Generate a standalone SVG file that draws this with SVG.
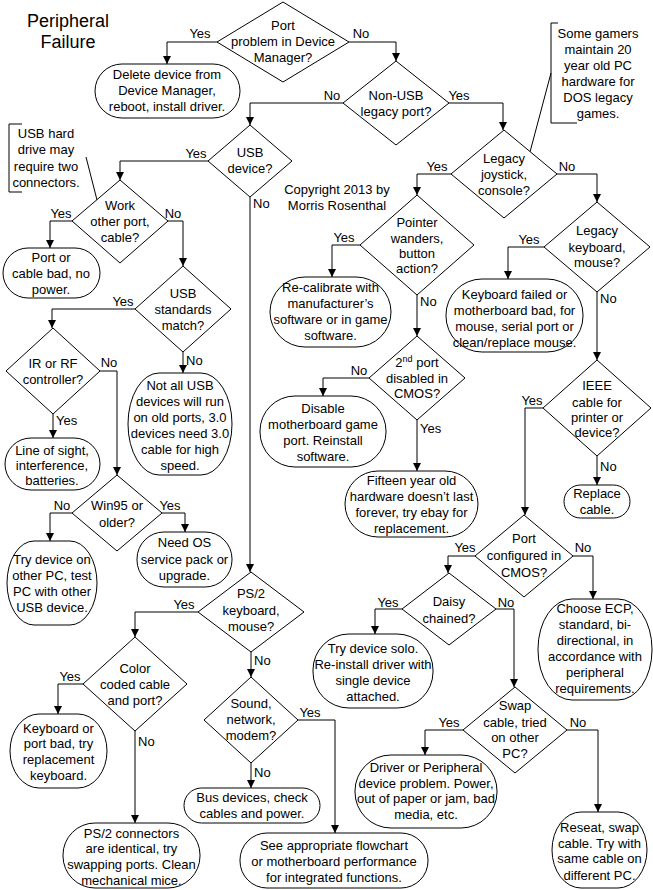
<svg xmlns="http://www.w3.org/2000/svg" width="653" height="890" viewBox="0 0 653 890">
<style>
text{font-family:"Liberation Sans",Arial,sans-serif;font-size:13px;fill:#000}
.n text{text-anchor:middle}
.t{font-size:18px;text-anchor:middle}
.d,.r{fill:#fff;stroke:#000;stroke-width:1}
.c polyline{fill:none;stroke:#000;stroke-width:1;marker-end:url(#ah)}
.c line,.note path{fill:none;stroke:#000;stroke-width:1}
.lb{text-anchor:middle}
.ls{text-anchor:start}
.note text{text-anchor:middle}
</style>
<defs>
<marker id="ah" markerUnits="userSpaceOnUse" markerWidth="8" markerHeight="8" refX="8" refY="4" orient="auto">
<path d="M0,0 L8,4 L0,8 z" fill="#000"/>
</marker>
</defs>
<rect width="653" height="890" fill="#fff"/>
<g id="title"><text class="t" x="68" y="27">Peripheral</text><text class="t" x="68" y="48">Failure</text></g>
<g id="copyright"><text x="337" y="194" text-anchor="middle">Copyright 2013 by</text><text x="337" y="210" text-anchor="middle">Morris Rosenthal</text></g>

<g class="c" id="connectors">
<polyline points="217,42 167,42 167,64"/>
<polyline points="349,42 396,42 396,61"/>
<polyline points="343,103 250,103 250,125"/>
<polyline points="449,103 503,103 503,130"/>
<polyline points="208,161 120,161 120,180"/>
<polyline points="250,197 250,572"/>
<polyline points="451,174 417,174 417,195"/>
<polyline points="557,174 597,174 597,202"/>
<polyline points="72,221 50,221 50,248"/>
<polyline points="168,221 183,221 183,266"/>
<polyline points="135,309 52,309 52,328"/>
<polyline points="183,352 183,373"/>
<polyline points="100,371 117,371 117,475"/>
<polyline points="53,414 53,438"/>
<polyline points="72,513 50,513 50,541"/>
<polyline points="162,513 185,513 185,532"/>
<polyline points="198,612 135,612 135,637"/>
<polyline points="251,652 251,677"/>
<polyline points="83,684 58,684 58,714"/>
<polyline points="135,731 135,823"/>
<polyline points="251,763 251,788"/>
<polyline points="298,720 335,720 335,833"/>
<polyline points="360,245 332,245 332,277"/>
<polyline points="417,295 417,336"/>
<polyline points="369,378 323,378 323,396"/>
<polyline points="417,420 417,471"/>
<polyline points="544,247 508,247 508,279"/>
<polyline points="597,292 597,360"/>
<polyline points="597,456 597,485"/>
<polyline points="543,408 525,408 525,515"/>
<polyline points="475,556 448,556 448,573"/>
<polyline points="573,556 593,556 593,599"/>
<polyline points="402,609 375,609 375,634"/>
<polyline points="496,609 514,609 514,687"/>
<polyline points="463,730 425,730 425,755"/>
<polyline points="567,730 598,730 598,812"/>
<line x1="551" y1="73" x2="530" y2="152"/>
<line x1="86" y1="157" x2="97" y2="200"/>
<text class="lb" x="200" y="38">Yes</text>
<text class="lb" x="361" y="38">No</text>
<text class="lb" x="332" y="100">No</text>
<text class="lb" x="459" y="100">Yes</text>
<text class="lb" x="196" y="158">Yes</text>
<text class="ls" x="253" y="208">No</text>
<text class="lb" x="437" y="171">Yes</text>
<text class="lb" x="567" y="171">No</text>
<text class="lb" x="61" y="218">Yes</text>
<text class="lb" x="173" y="218">No</text>
<text class="lb" x="123" y="306">Yes</text>
<text class="ls" x="186" y="365">No</text>
<text class="lb" x="109" y="367">No</text>
<text class="ls" x="56" y="425">Yes</text>
<text class="lb" x="62" y="510">No</text>
<text class="lb" x="170" y="510">Yes</text>
<text class="lb" x="184" y="609">Yes</text>
<text class="ls" x="254" y="665">No</text>
<text class="lb" x="70" y="681">Yes</text>
<text class="ls" x="138" y="746">No</text>
<text class="ls" x="254" y="777">No</text>
<text class="lb" x="310" y="717">Yes</text>
<text class="lb" x="344" y="242">Yes</text>
<text class="ls" x="420" y="306">No</text>
<text class="lb" x="359" y="375">No</text>
<text class="ls" x="420" y="433">Yes</text>
<text class="lb" x="529" y="244">Yes</text>
<text class="ls" x="600" y="303">No</text>
<text class="ls" x="600" y="471">No</text>
<text class="lb" x="532" y="405">Yes</text>
<text class="lb" x="465" y="552">Yes</text>
<text class="lb" x="583" y="552">No</text>
<text class="lb" x="388" y="607">Yes</text>
<text class="lb" x="506" y="607">No</text>
<text class="lb" x="449" y="727">Yes</text>
<text class="lb" x="578" y="727">No</text>
</g>

<g class="note" id="note_gamers">
<path d="M558,23 H551 V123 H577"/>
<text x="598" y="38">Some gamers</text><text x="598" y="54">maintain 20</text><text x="598" y="70">year old PC</text><text x="598" y="86">hardware for</text><text x="598" y="102">DOS legacy</text><text x="598" y="118">games.</text>
</g>
<g class="note" id="note_usb">
<path d="M22,124 H9 V192 H22"/>
<text x="46" y="138">USB hard</text><text x="46" y="154">drive may</text><text x="46" y="171">require two</text><text x="46" y="187">connectors.</text>
</g>

<g class="n" id="d_port_dm"><polygon class="d" points="283,2 349,42 283,82 217,42"/><text x="283" y="30">Port</text><text x="283" y="46">problem in Device</text><text x="283" y="62">Manager?</text></g>
<g class="n" id="t_delete"><rect class="r" x="95" y="64" width="145" height="54" rx="27"/><text x="167" y="79">Delete device from</text><text x="167" y="95">Device Manager,</text><text x="167" y="111">reboot, install driver.</text></g>
<g class="n" id="d_nonusb"><polygon class="d" points="396,61 449,103 396,145 343,103"/><text x="396" y="100">Non-USB</text><text x="396" y="116">legacy port?</text></g>
<g class="n" id="d_usb"><polygon class="d" points="250,125 292,161 250,197 208,161"/><text x="250" y="157">USB</text><text x="250" y="173">device?</text></g>
<g class="n" id="d_joystick"><polygon class="d" points="504,130 557,174 504,218 451,174"/><text x="504" y="163">Legacy</text><text x="504" y="179">joystick,</text><text x="504" y="195">console?</text></g>
<g class="n" id="d_work"><polygon class="d" points="120,180 168,221 120,263 72,221"/><text x="120" y="210">Work</text><text x="120" y="226">other port,</text><text x="120" y="242">cable?</text></g>
<g class="n" id="t_portbad"><rect class="r" x="3" y="248" width="97" height="50" rx="25"/><text x="51" y="262">Port or</text><text x="51" y="278">cable bad, no</text><text x="51" y="294">power.</text></g>
<g class="n" id="d_usbstd"><polygon class="d" points="183,266 231,309 183,352 135,309"/><text x="183" y="298">USB</text><text x="183" y="314">standards</text><text x="183" y="330">match?</text></g>
<g class="n" id="d_irrf"><polygon class="d" points="53,328 100,371 53,414 6,371"/><text x="53" y="368">IR or RF</text><text x="53" y="384">controller?</text></g>
<g class="n" id="t_notall"><rect class="r" x="128" y="373" width="104" height="102" rx="31" ry="51"/><text x="180" y="390">Not all USB</text><text x="180" y="406">devices will run</text><text x="180" y="422">on old ports, 3.0</text><text x="180" y="438">devices need 3.0</text><text x="180" y="454">cable for high</text><text x="180" y="470">speed.</text></g>
<g class="n" id="t_sight"><rect class="r" x="5" y="438" width="95" height="52" rx="26"/><text x="52" y="455">Line of sight,</text><text x="52" y="470">interference,</text><text x="52" y="485">batteries.</text></g>
<g class="n" id="d_win95"><polygon class="d" points="117,475 162,513 117,551 72,513"/><text x="117" y="510">Win95 or</text><text x="117" y="527">older?</text></g>
<g class="n" id="t_trydev"><rect class="r" x="7" y="541" width="90" height="84" rx="27" ry="42"/><text x="52" y="564">Try device on</text><text x="52" y="580">other PC, test</text><text x="52" y="596">PC with other</text><text x="52" y="612">USB device.</text></g>
<g class="n" id="t_needos"><rect class="r" x="137" y="532" width="95" height="55" rx="27"/><text x="184.5" y="547">Need OS</text><text x="184.5" y="564">service pack or</text><text x="184.5" y="580">upgrade.</text></g>
<g class="n" id="d_ps2"><polygon class="d" points="251,572 304,612 251,652 198,612"/><text x="251" y="598">PS/2</text><text x="251" y="615">keyboard,</text><text x="251" y="631">mouse?</text></g>
<g class="n" id="d_color"><polygon class="d" points="135,637 187,684 135,731 83,684"/><text x="135" y="673">Color</text><text x="135" y="689">coded cable</text><text x="135" y="705">and port?</text></g>
<g class="n" id="t_kbport"><rect class="r" x="10" y="714" width="97" height="74" rx="29" ry="37"/><text x="58.5" y="733">Keyboard or</text><text x="58.5" y="748">port bad, try</text><text x="58.5" y="764">replacement</text><text x="58.5" y="780">keyboard.</text></g>
<g class="n" id="t_ps2conn"><rect class="r" x="63" y="823" width="137" height="65" rx="32"/><text x="131.5" y="838">PS/2 connectors</text><text x="131.5" y="853">are identical, try</text><text x="131.5" y="869">swapping ports. Clean</text><text x="131.5" y="885">mechanical mice.</text></g>
<g class="n" id="d_sound"><polygon class="d" points="251,677 298,720 251,763 204,720"/><text x="251" y="708">Sound,</text><text x="251" y="724">network,</text><text x="251" y="740">modem?</text></g>
<g class="n" id="t_bus"><rect class="r" x="184" y="788" width="136" height="35" rx="17.5"/><text x="252" y="802">Bus devices, check</text><text x="252" y="818">cables and power.</text></g>
<g class="n" id="t_seeappr"><rect class="r" x="240" y="833" width="188" height="55" rx="27"/><text x="334" y="850">See appropriate flowchart</text><text x="334" y="866">or motherboard performance</text><text x="334" y="882">for integrated functions.</text></g>
<g class="n" id="d_pointer"><polygon class="d" points="417,195 474,245 417,295 360,245"/><text x="417" y="227">Pointer</text><text x="417" y="243">wanders,</text><text x="417" y="258">button</text><text x="417" y="273">action?</text></g>
<g class="n" id="t_recal"><rect class="r" x="270" y="277" width="121" height="70" rx="35"/><text x="330.5" y="292">Re-calibrate with</text><text x="330.5" y="308">manufacturer’s</text><text x="330.5" y="324">software or in game</text><text x="330.5" y="340">software.</text></g>
<g class="n" id="d_2nd"><polygon class="d" points="417,336 465,378 417,420 369,378"/><text x="417" y="367">2<tspan font-size="9" dy="-5">nd</tspan><tspan dy="5"> port</tspan></text><text x="417" y="383">disabled in</text><text x="417" y="398">CMOS?</text></g>
<g class="n" id="t_disable"><rect class="r" x="260" y="396" width="126" height="71" rx="35"/><text x="323" y="413">Disable</text><text x="323" y="429">motherboard game</text><text x="323" y="445">port. Reinstall</text><text x="323" y="461">software.</text></g>
<g class="n" id="t_fifteen"><rect class="r" x="345" y="471" width="133" height="66" rx="33"/><text x="411.5" y="485">Fifteen year old</text><text x="411.5" y="501">hardware doesn’t last</text><text x="411.5" y="517">forever, try ebay for</text><text x="411.5" y="533">replacement.</text></g>
<g class="n" id="d_legkb"><polygon class="d" points="597,202 650,247 597,292 544,247"/><text x="597" y="235">Legacy</text><text x="597" y="252">keyboard,</text><text x="597" y="267">mouse?</text></g>
<g class="n" id="t_kbfail"><rect class="r" x="446" y="279" width="137" height="73" rx="36"/><text x="514.5" y="299">Keyboard failed or</text><text x="514.5" y="315">motherboard bad, for</text><text x="514.5" y="331">mouse, serial port or</text><text x="514.5" y="347">clean/replace mouse.</text></g>
<g class="n" id="d_ieee"><polygon class="d" points="597,360 651,408 597,456 543,408"/><text x="597" y="390">IEEE</text><text x="597" y="407">cable for</text><text x="597" y="422">printer or</text><text x="597" y="437">device?</text></g>
<g class="n" id="t_replace"><rect class="r" x="564" y="485" width="66" height="33" rx="16.5"/><text x="597" y="498">Replace</text><text x="597" y="514">cable.</text></g>
<g class="n" id="d_portcfg"><polygon class="d" points="524,515 573,556 524,597 475,556"/><text x="524" y="543">Port</text><text x="524" y="560">configured in</text><text x="524" y="577">CMOS?</text></g>
<g class="n" id="t_choose"><rect class="r" x="538" y="599" width="114" height="101" rx="34" ry="50"/><text x="595" y="613">Choose ECP,</text><text x="595" y="629">standard, bi-</text><text x="595" y="645">directional, in</text><text x="595" y="661">accordance with</text><text x="595" y="677">peripheral</text><text x="595" y="693">requirements.</text></g>
<g class="n" id="d_daisy"><polygon class="d" points="449,573 496,609 449,645 402,609"/><text x="449" y="606">Daisy</text><text x="449" y="623">chained?</text></g>
<g class="n" id="t_trysolo"><rect class="r" x="313" y="634" width="120" height="74" rx="36"/><text x="373" y="653">Try device solo.</text><text x="373" y="669">Re-install driver with</text><text x="373" y="685">single device</text><text x="373" y="701">attached.</text></g>
<g class="n" id="d_swap"><polygon class="d" points="515,687 567,730 515,773 463,730"/><text x="515" y="710">Swap</text><text x="515" y="727">cable, tried</text><text x="515" y="742">on other</text><text x="515" y="758">PC?</text></g>
<g class="n" id="t_driver"><rect class="r" x="355" y="755" width="142" height="73" rx="36"/><text x="426" y="772">Driver or Peripheral</text><text x="426" y="788">device problem. Power,</text><text x="426" y="803">out of paper or jam, bad</text><text x="426" y="819">media, etc.</text></g>
<g class="n" id="t_reseat"><rect class="r" x="552" y="812" width="95" height="76" rx="29" ry="38"/><text x="599.5" y="832">Reseat, swap</text><text x="599.5" y="848">cable. Try with</text><text x="599.5" y="863">same cable on</text><text x="599.5" y="880">different PC.</text></g>
</svg>
